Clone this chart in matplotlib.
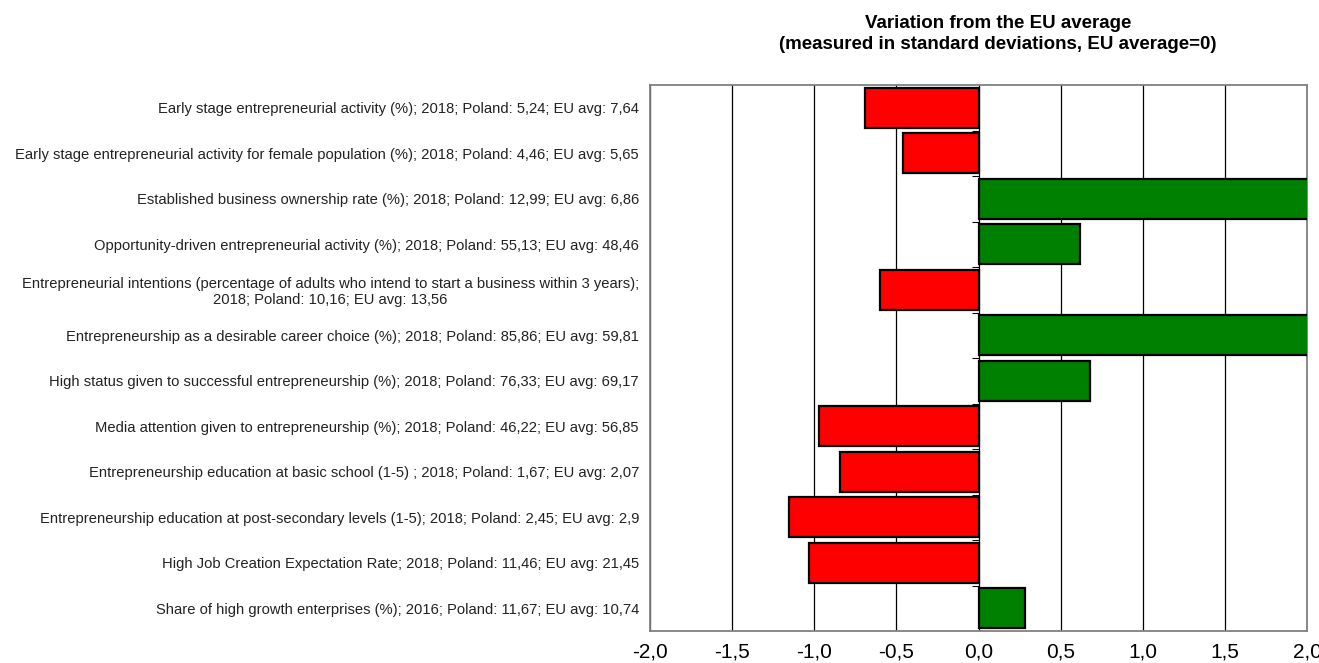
import matplotlib
matplotlib.use("Agg")
import matplotlib.pyplot as plt
from matplotlib.ticker import FuncFormatter, MultipleLocator
from matplotlib.lines import TICKLEFT

plt.rcParams['font.family'] = ['Liberation Sans', 'DejaVu Sans']

indicators = [
    "Early stage entrepreneurial activity (%); 2018; Poland: 5,24; EU avg: 7,64",
    "Early stage entrepreneurial activity for female population (%); 2018; Poland: 4,46; EU avg: 5,65",
    "Established business ownership rate (%); 2018; Poland: 12,99; EU avg: 6,86",
    "Opportunity-driven entrepreneurial activity (%); 2018; Poland: 55,13; EU avg: 48,46",
    "Entrepreneurial intentions (percentage of adults who intend to start a business within 3 years);\n2018; Poland: 10,16; EU avg: 13,56",
    "Entrepreneurship as a desirable career choice (%); 2018; Poland: 85,86; EU avg: 59,81",
    "High status given to successful entrepreneurship (%); 2018; Poland: 76,33; EU avg: 69,17",
    "Media attention given to entrepreneurship (%); 2018; Poland: 46,22; EU avg: 56,85",
    "Entrepreneurship education at basic school (1-5) ; 2018; Poland: 1,67; EU avg: 2,07",
    "Entrepreneurship education at post-secondary levels (1-5); 2018; Poland: 2,45; EU avg: 2,9",
    "High Job Creation Expectation Rate; 2018; Poland: 11,46; EU avg: 21,45",
    "Share of high growth enterprises (%); 2016; Poland: 11,67; EU avg: 10,74",
]

# deviation from the EU mean in standard deviations (values beyond 2 run off the scale)
deviation = [-0.69, -0.46, 2.6, 0.615, -0.60, 2.8, 0.68, -0.97, -0.845, -1.155, -1.03, 0.285]

x_ticks = [-2.0, -1.5, -1.0, -0.5, 0.0, 0.5, 1.0, 1.5, 2.0]

fig = plt.figure(figsize=(13.19, 6.63), dpi=100)
ax = fig.add_axes([650 / 1319, 1 - 631 / 663, 657 / 1319, 546 / 663])

ypos = list(range(len(indicators)))
colors = ['#FF0000' if v < 0 else '#008000' for v in deviation]

ax.set_xlim(-2, 2)
ax.set_ylim(len(indicators) - 0.5, -0.5)

for xv in x_ticks:
    ax.axvline(xv, color='black', lw=0.9, zorder=1)

ax.barh(ypos, deviation, height=0.87, color=colors, edgecolor='black',
        linewidth=1.6, zorder=3)

# small category separators on the zero line
ax.plot([0] * (len(indicators) - 1), [i + 0.5 for i in range(len(indicators) - 1)],
        linestyle='none', marker=TICKLEFT, markersize=5, color='black',
        markeredgewidth=0.8, zorder=4)

ax.set_yticks(ypos)
ax.set_yticklabels(indicators, fontsize=10.6, color='#222222', multialignment='center')
ax.tick_params(axis='y', length=0, pad=8)

ax.xaxis.set_major_locator(MultipleLocator(0.5))
ax.xaxis.set_major_formatter(FuncFormatter(lambda v, p: f"{v:.1f}".replace('.', ',')))
ax.tick_params(axis='x', length=0, pad=8, labelsize=15, labelcolor='black')

for s in ax.spines.values():
    s.set_color('#808080')
    s.set_linewidth(1.3)

fig.text(998 / 1319, 1 - 34 / 663,
         "Variation from the EU average\n(measured in standard deviations, EU average=0)",
         ha='center', va='center', fontsize=13.5, fontweight='bold',
         multialignment='center', linespacing=1.3)

fig.savefig("out.png", dpi=100)
